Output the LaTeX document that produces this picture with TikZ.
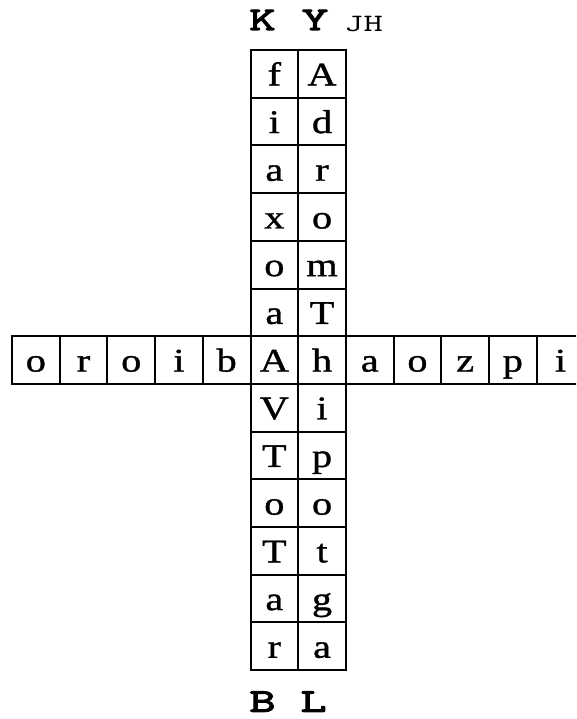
\documentclass[tikz,border=0pt]{standalone}
\usepackage{fontspec}
\newfontfamily\cellfont{Liberation Serif}[FakeBold=1.1, FakeStretch=1.22]
\newfontfamily\labfont{Latin Modern Mono}[FakeBold=3.5, FakeStretch=1.55]
\newfontfamily\subfont{Latin Modern Mono}[FakeStretch=1.5]
\tikzset{
  cell/.style={draw, line width=2pt, minimum width=47.7pt, minimum height=47.7pt,
    inner sep=0pt, text height=23pt, text depth=0pt, font=\cellfont\fontsize{33}{33}\selectfont},
  lab/.style={anchor=base, inner sep=0pt, font=\labfont\fontsize{33}{33}\selectfont},
  sublab/.style={anchor=base west, inner sep=0pt, font=\subfont\fontsize{25}{25}\selectfont}
}
\begin{document}
\begin{tikzpicture}[x=1pt,y=-1pt]
\clip (0,0) rectangle (576,719);
% vertical columns (rows 0..12), horizontal row at index 6
\def\cs{47.7}
\foreach \ch [count=\i from 0] in {f,i,a,x,o,a,A,V,T,o,T,a,r}{
  \node[cell] (c1r\i) at (274.35, 50+\cs/2+\i*\cs) {\ch};
}
\foreach \ch [count=\i from 0] in {A,d,r,o,m,T,h,i,p,o,t,g,a}{
  \node[cell] (c2r\i) at (322.05, 50+\cs/2+\i*\cs) {\ch};
}
\foreach \ch [count=\i from 0] in {o,r,o,i,b}{
  \node[cell] (h\i) at (12+\cs/2+\i*\cs, 336.2+\cs/2) {\ch};
}
\foreach \ch [count=\i from 7] in {a,o,z,p,i}{
  \node[cell] (h\i) at (12+\cs/2+\i*\cs, 336.2+\cs/2) {\ch};
}
\node[lab] (K) at (262.5,30) {K};
\node[lab] (Y) at (315,30) {Y};
\node[sublab] (JH) at (344,31.5) {JH};
\node[lab] (B) at (262.5,711.7) {B};
\node[lab] (L) at (313.5,711.7) {L};
\end{tikzpicture}
\end{document}
